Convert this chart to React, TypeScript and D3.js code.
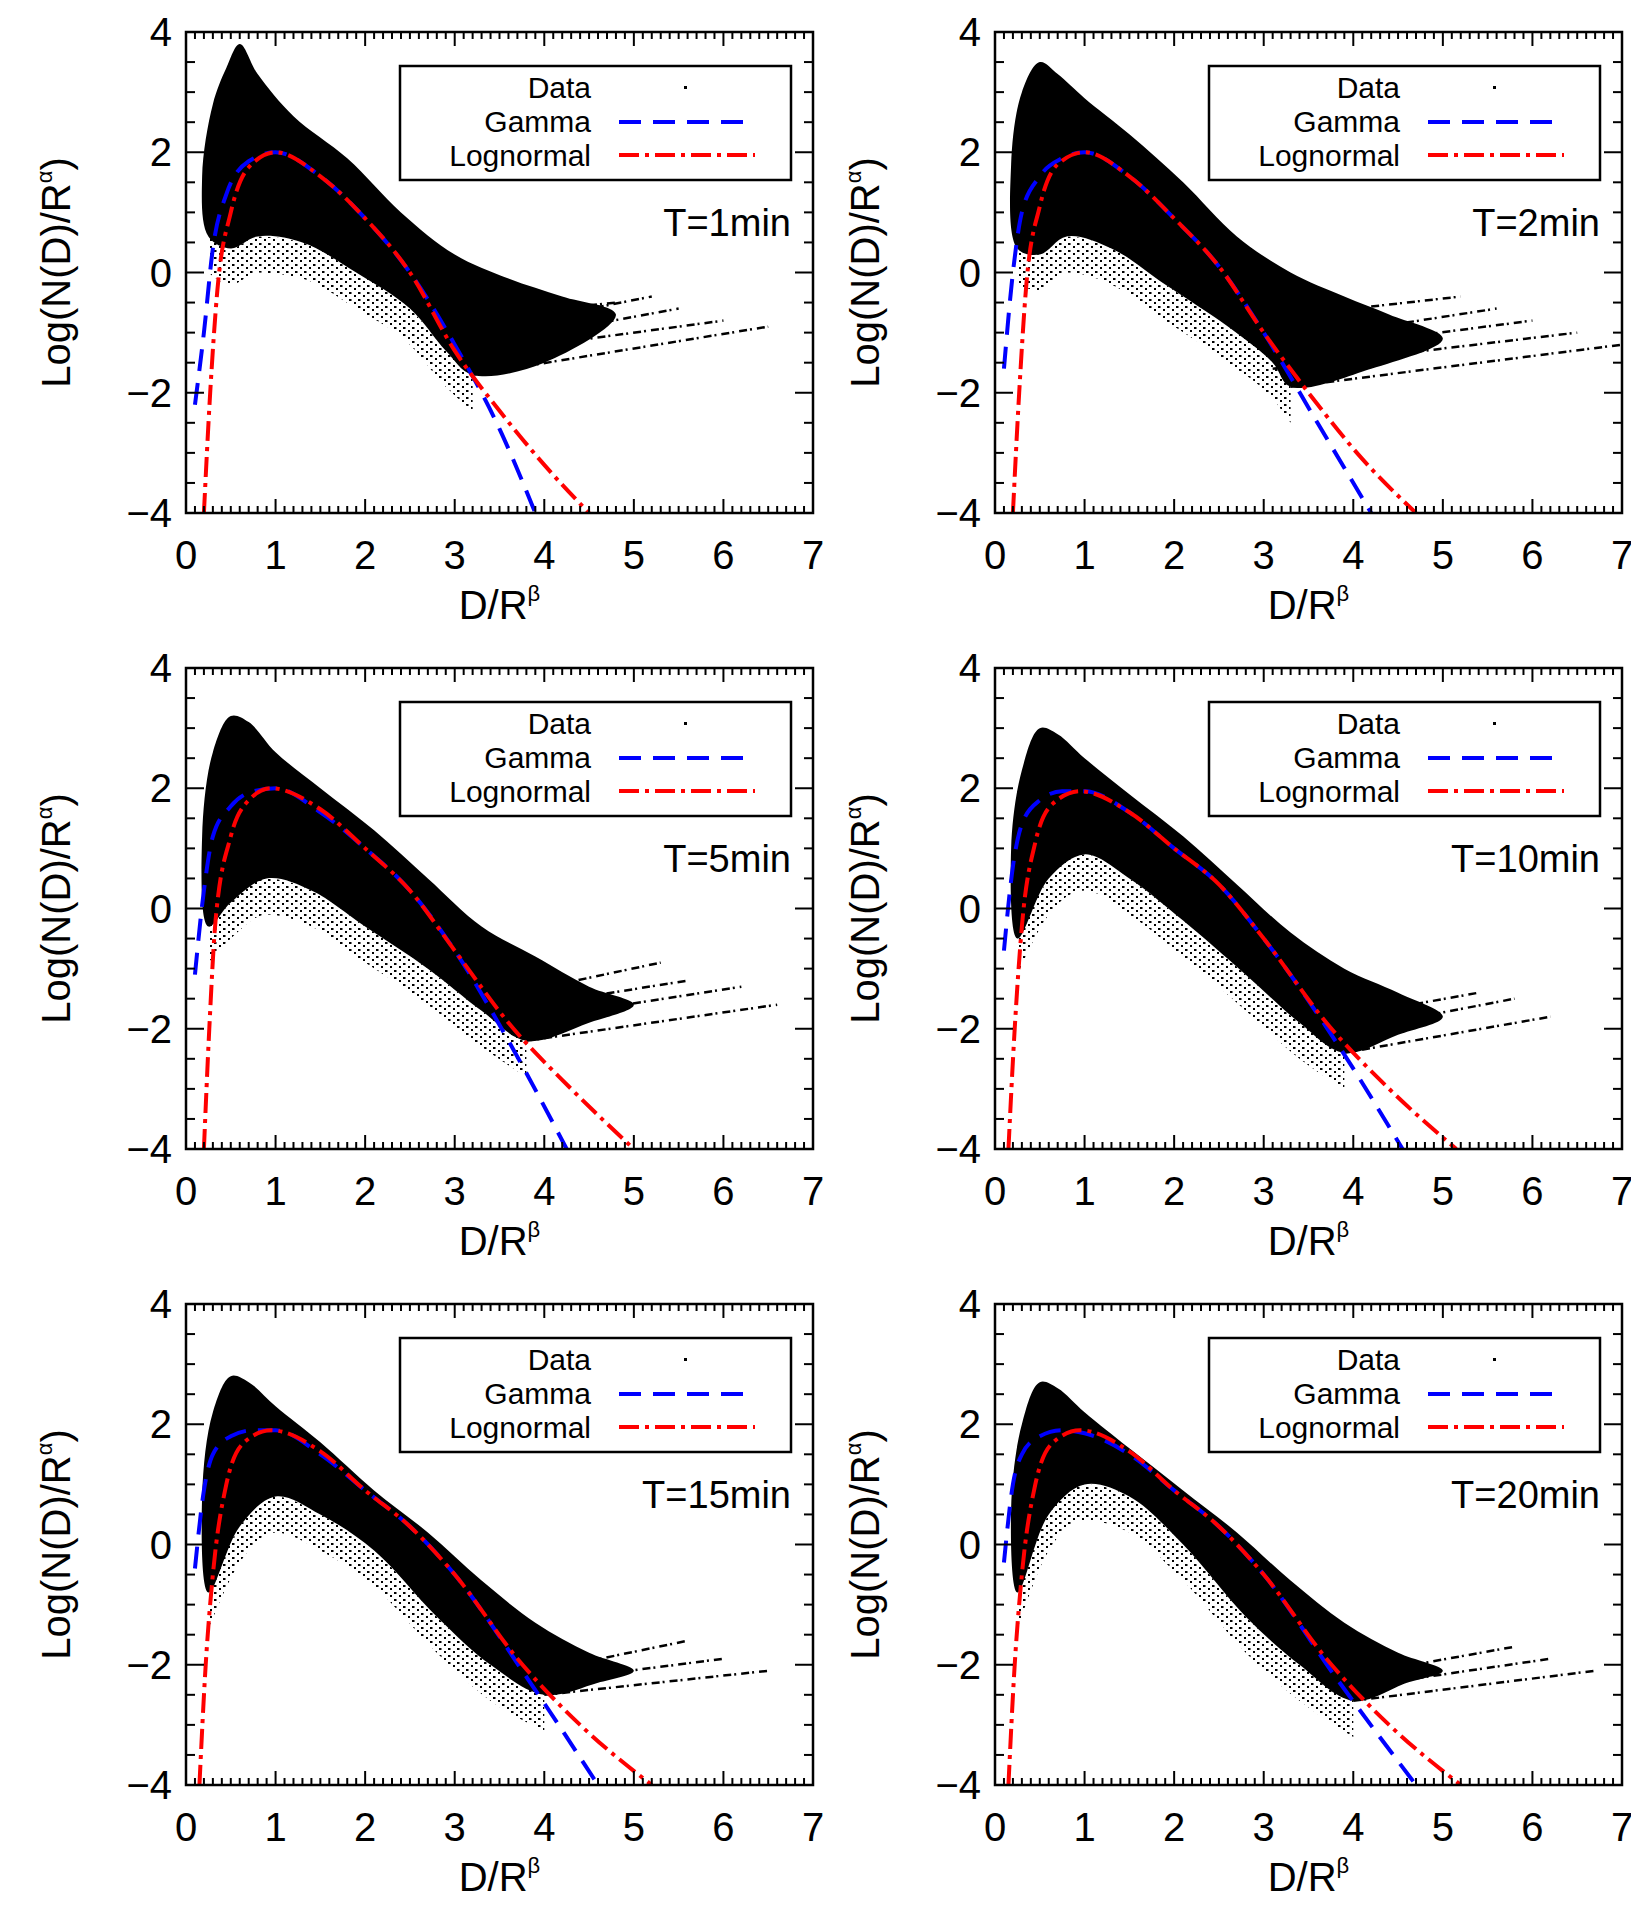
import * as d3 from "d3";

type P = [number, number];

const titles = ["T=1min", "T=2min", "T=5min", "T=10min", "T=15min", "T=20min"];
const xTicks = [0, 1, 2, 3, 4, 5, 6, 7];
const yTicks = [-4, -2, 0, 2, 4];

// upper / lower edge of the dense data cloud
const cloudTop: P[][] = [
  [[0.18, 1.6], [0.3, 2.8], [0.45, 3.4], [0.6, 3.8], [0.8, 3.3], [1.2, 2.6], [1.8, 1.9], [2.4, 1.0], [3.0, 0.3], [3.6, -0.1], [4.2, -0.4], [4.8, -0.7]],
  [[0.18, 1.8], [0.3, 3.0], [0.5, 3.5], [0.7, 3.3], [1.0, 2.9], [1.5, 2.3], [2.1, 1.5], [2.7, 0.6], [3.3, 0.0], [3.9, -0.4], [4.4, -0.7], [5.0, -1.1]],
  [[0.18, 1.2], [0.3, 2.6], [0.5, 3.2], [0.7, 3.1], [1.0, 2.6], [1.5, 2.0], [2.1, 1.3], [2.7, 0.5], [3.3, -0.3], [3.9, -0.8], [4.5, -1.3], [5.0, -1.6]],
  [[0.18, 1.0], [0.3, 2.3], [0.5, 3.0], [0.7, 2.9], [1.0, 2.5], [1.5, 1.9], [2.1, 1.2], [2.7, 0.4], [3.3, -0.4], [3.9, -1.0], [4.5, -1.4], [5.0, -1.8]],
  [[0.18, 0.8], [0.3, 2.2], [0.5, 2.8], [0.7, 2.7], [1.0, 2.3], [1.5, 1.7], [2.1, 0.9], [2.7, 0.2], [3.3, -0.6], [3.9, -1.3], [4.5, -1.8], [5.0, -2.1]],
  [[0.18, 0.6], [0.3, 2.0], [0.5, 2.7], [0.7, 2.6], [1.0, 2.2], [1.5, 1.6], [2.1, 0.9], [2.7, 0.2], [3.3, -0.6], [3.9, -1.3], [4.5, -1.8], [5.0, -2.1]],
];
const cloudBottom: P[][] = [
  [[0.18, 1.6], [0.25, 0.6], [0.5, 0.4], [0.8, 0.6], [1.3, 0.5], [1.9, 0.0], [2.5, -0.6], [2.9, -1.3], [3.2, -1.7], [4.0, -1.5], [4.8, -0.7]],
  [[0.18, 1.8], [0.25, 0.4], [0.5, 0.3], [0.8, 0.6], [1.3, 0.4], [1.9, -0.2], [2.6, -0.9], [3.1, -1.5], [3.3, -1.9], [4.2, -1.6], [5.0, -1.1]],
  [[0.18, 1.2], [0.25, -0.3], [0.5, 0.1], [0.9, 0.5], [1.4, 0.3], [2.0, -0.3], [2.7, -1.0], [3.3, -1.7], [3.8, -2.2], [4.5, -1.9], [5.0, -1.6]],
  [[0.18, 1.0], [0.25, -0.5], [0.6, 0.5], [1.0, 0.9], [1.5, 0.5], [2.1, -0.2], [2.8, -1.1], [3.4, -1.9], [3.9, -2.4], [4.5, -2.1], [5.0, -1.8]],
  [[0.18, 0.8], [0.25, -0.8], [0.6, 0.3], [1.0, 0.8], [1.5, 0.5], [2.1, -0.1], [2.8, -1.2], [3.4, -2.0], [4.0, -2.5], [4.6, -2.3], [5.0, -2.1]],
  [[0.18, 0.6], [0.25, -0.8], [0.6, 0.5], [1.0, 1.0], [1.5, 0.8], [2.1, 0.0], [2.8, -1.2], [3.4, -2.0], [4.0, -2.6], [4.6, -2.3], [5.0, -2.1]],
];
// sparse streaks in the tail: [x1, y1, x2, y2]
const streaks: [number, number, number, number][][] = [
  [[3.2, -1.7, 6.5, -0.9], [3.0, -1.4, 6.0, -0.8], [3.3, -1.2, 5.5, -0.6], [2.8, -1.1, 5.2, -0.4], [3.5, -0.7, 4.8, -0.5]],
  [[3.3, -1.9, 7.0, -1.2], [3.1, -1.6, 6.5, -1.0], [3.4, -1.3, 6.0, -0.8], [3.0, -1.2, 5.6, -0.6], [4.0, -0.6, 5.2, -0.4]],
  [[3.8, -2.2, 6.6, -1.6], [3.6, -1.9, 6.2, -1.3], [3.9, -1.6, 5.6, -1.2], [3.4, -1.5, 5.3, -0.9]],
  [[3.9, -2.4, 6.2, -1.8], [3.7, -2.1, 5.8, -1.5], [3.9, -1.8, 5.4, -1.4]],
  [[4.0, -2.5, 6.5, -2.1], [3.9, -2.3, 6.0, -1.9], [4.3, -2.0, 5.6, -1.6]],
  [[4.0, -2.6, 6.7, -2.1], [3.9, -2.4, 6.2, -1.9], [4.3, -2.1, 5.8, -1.7]],
];

const gamma: P[][] = [
  [[0.1, -2.2], [0.2, -1.0], [0.3, 0.4], [0.45, 1.3], [0.7, 1.85], [1.0, 2.0], [1.5, 1.6], [2.0, 0.9], [2.5, 0.0], [3.0, -1.2], [3.5, -2.6], [3.9, -4.0]],
  [[0.1, -1.6], [0.2, 0.0], [0.3, 1.0], [0.5, 1.6], [0.75, 1.9], [1.0, 2.0], [1.5, 1.6], [2.0, 0.9], [2.5, 0.1], [3.0, -1.0], [3.6, -2.5], [4.2, -4.0]],
  [[0.1, -1.1], [0.2, 0.3], [0.3, 1.2], [0.5, 1.7], [0.75, 1.95], [1.0, 2.0], [1.5, 1.6], [2.0, 1.0], [2.5, 0.3], [3.0, -0.7], [3.6, -2.2], [4.25, -4.0]],
  [[0.1, -0.7], [0.2, 0.7], [0.3, 1.4], [0.5, 1.8], [0.75, 1.95], [1.0, 1.95], [1.5, 1.6], [2.0, 1.0], [2.5, 0.4], [3.0, -0.5], [3.8, -2.2], [4.55, -4.0]],
  [[0.1, -0.4], [0.2, 0.9], [0.3, 1.5], [0.5, 1.8], [0.75, 1.9], [1.0, 1.9], [1.5, 1.5], [2.0, 0.9], [2.5, 0.3], [3.0, -0.5], [3.8, -2.2], [4.6, -4.0]],
  [[0.1, -0.3], [0.2, 1.0], [0.3, 1.5], [0.5, 1.8], [0.75, 1.9], [1.0, 1.85], [1.5, 1.5], [2.0, 0.9], [2.5, 0.3], [3.0, -0.5], [3.8, -2.2], [4.7, -4.0]],
];
const lognormal: P[][] = [
  [[0.2, -4.0], [0.27, -2.0], [0.35, -0.3], [0.5, 1.0], [0.7, 1.75], [1.0, 2.0], [1.5, 1.6], [2.0, 0.9], [2.5, 0.0], [3.0, -1.3], [3.5, -2.3], [4.0, -3.2], [4.5, -4.0]],
  [[0.2, -4.0], [0.27, -2.0], [0.35, -0.2], [0.5, 1.1], [0.7, 1.8], [1.0, 2.0], [1.5, 1.6], [2.0, 0.9], [2.5, 0.1], [3.0, -1.0], [3.5, -2.0], [4.1, -3.1], [4.7, -4.0]],
  [[0.2, -4.0], [0.26, -2.0], [0.33, -0.2], [0.5, 1.2], [0.7, 1.8], [0.95, 2.0], [1.5, 1.65], [2.0, 1.0], [2.5, 0.3], [3.0, -0.7], [3.6, -1.9], [4.3, -3.0], [5.0, -4.0]],
  [[0.15, -4.0], [0.22, -2.0], [0.3, -0.3], [0.45, 1.1], [0.65, 1.75], [0.95, 1.95], [1.5, 1.6], [2.0, 1.0], [2.5, 0.4], [3.0, -0.5], [3.7, -1.9], [4.4, -3.0], [5.15, -4.0]],
  [[0.15, -4.0], [0.22, -2.0], [0.3, -0.5], [0.45, 1.0], [0.65, 1.7], [0.95, 1.9], [1.5, 1.55], [2.0, 0.9], [2.5, 0.3], [3.0, -0.5], [3.7, -1.9], [4.4, -3.0], [5.2, -4.0]],
  [[0.15, -4.0], [0.22, -2.0], [0.3, -0.5], [0.45, 1.0], [0.65, 1.7], [0.95, 1.9], [1.5, 1.55], [2.0, 0.9], [2.5, 0.3], [3.0, -0.5], [3.7, -1.9], [4.4, -3.0], [5.2, -4.0]],
];

const W = 627;
const H = 481;
const colX = [178, 987];
const rowY = [24, 660, 1296];
const FONT = "'Liberation Sans', 'DejaVu Sans', sans-serif";

function Panel({ i }: { i: number }) {
  const x = d3.scaleLinear().domain([0, 7]).range([0, W]);
  const y = d3.scaleLinear().domain([-4, 4]).range([H, 0]);
  const curve = d3.line<P>().x((d) => x(d[0])).y((d) => y(d[1])).curve(d3.curveMonotoneX);
  const ring = cloudTop[i].concat(cloudBottom[i].slice(1, -1).reverse());
  const cloud = d3
    .line<P>()
    .x((d) => x(d[0]))
    .y((d) => y(d[1]))
    .curve(d3.curveCatmullRomClosed.alpha(0.5))(ring);
  // sparse fringe below the dense cloud
  const fringe = d3
    .area<P>()
    .x((d) => x(d[0]))
    .y0((d) => y(d[1] - 0.6))
    .y1((d) => y(d[1]))
    .curve(d3.curveMonotoneX)(cloudBottom[i].slice(1, -2));
  const minorX = d3.range(0, 70).map((k) => k / 10);
  const minorY = d3.range(-40, 41, 5).map((k) => k / 10);
  return (
    <g transform={`translate(${colX[i % 2]},${rowY[Math.floor(i / 2)]})`}>
      <defs>
        <clipPath id={`clip${i}`}>
          <rect width={W} height={H} />
        </clipPath>
        <pattern id={`dots${i}`} width={9} height={7} patternUnits="userSpaceOnUse">
          <rect x={1} y={1} width={2.5} height={2} fill="black" />
          <rect x={6} y={4} width={2} height={2} fill="black" />
        </pattern>
      </defs>
      <g clipPath={`url(#clip${i})`}>
        <path d={fringe ?? undefined} fill={`url(#dots${i})`} />
        <path d={cloud ?? undefined} fill="black" />
        {streaks[i].map((s, k) => (
          <line key={k} x1={x(s[0])} y1={y(s[1])} x2={x(s[2])} y2={y(s[3])} stroke="black" strokeWidth={2.5} strokeDasharray="8 3 2 5" />
        ))}
        <path d={curve(gamma[i]) ?? undefined} fill="none" stroke="#0000ff" strokeWidth={4} strokeDasharray="22 12" />
        <path d={curve(lognormal[i]) ?? undefined} fill="none" stroke="#ff0000" strokeWidth={4} strokeDasharray="20 6 4 6" />
      </g>
      <rect width={W} height={H} fill="none" stroke="black" strokeWidth={2.5} />
      {minorX.map((v) => {
        const major = Math.abs(v - Math.round(v)) < 1e-6;
        const l = major ? 14 : 7;
        return (
          <g key={v} stroke="black" strokeWidth={2}>
            <line x1={x(v)} x2={x(v)} y1={H} y2={H - l} />
            <line x1={x(v)} x2={x(v)} y1={0} y2={l} />
          </g>
        );
      })}
      {minorY.map((v) => {
        const major = Math.abs(v / 2 - Math.round(v / 2)) < 1e-6;
        const l = major ? 18 : 9;
        return (
          <g key={v} stroke="black" strokeWidth={2}>
            <line x1={0} x2={l} y1={y(v)} y2={y(v)} />
            <line x1={W} x2={W - l} y1={y(v)} y2={y(v)} />
          </g>
        );
      })}
      {xTicks.map((v) => (
        <text key={v} x={x(v)} y={H + 56} fontSize={40} textAnchor="middle" fontFamily={FONT}>
          {v}
        </text>
      ))}
      {yTicks.map((v) => (
        <text key={v} x={-14} y={y(v) + 14} fontSize={40} textAnchor="end" fontFamily={FONT}>
          {v < 0 ? "\u2212" + Math.abs(v) : v}
        </text>
      ))}
      <text x={W / 2} y={H + 106} fontSize={40} textAnchor="middle" fontFamily={FONT}>
        D/R<tspan fontSize={22} dy={-18}>β</tspan>
      </text>
      <text transform={`translate(${-116},${H / 2}) rotate(-90)`} fontSize={40} textAnchor="middle" fontFamily={FONT}>
        Log(N(D)/R<tspan fontSize={22} dy={-18}>α</tspan>
        <tspan dy={18}>)</tspan>
      </text>
      <g transform="translate(214,34)" fontFamily={FONT} fontSize={30}>
        <rect width={391} height={114} fill="white" stroke="black" strokeWidth={2.5} />
        <text x={191} y={32} textAnchor="end">Data</text>
        <text x={191} y={66} textAnchor="end">Gamma</text>
        <text x={191} y={100} textAnchor="end">Lognormal</text>
        <rect x={284} y={20} width={3} height={3} fill="black" />
        <line x1={219} x2={355} y1={56} y2={56} stroke="#0000ff" strokeWidth={4} strokeDasharray="22 12" />
        <line x1={219} x2={355} y1={89} y2={89} stroke="#ff0000" strokeWidth={4} strokeDasharray="20 6 4 6" />
      </g>
      <text x={W - 22} y={204} fontSize={38} textAnchor="end" fontFamily={FONT}>
        {titles[i]}
      </text>
    </g>
  );
}

export default function App() {
  return (
    <svg width={1630} height={1890} style={{ display: "block", background: "white" }}>
      {titles.map((_, i) => (
        <Panel key={i} i={i} />
      ))}
    </svg>
  );
}
